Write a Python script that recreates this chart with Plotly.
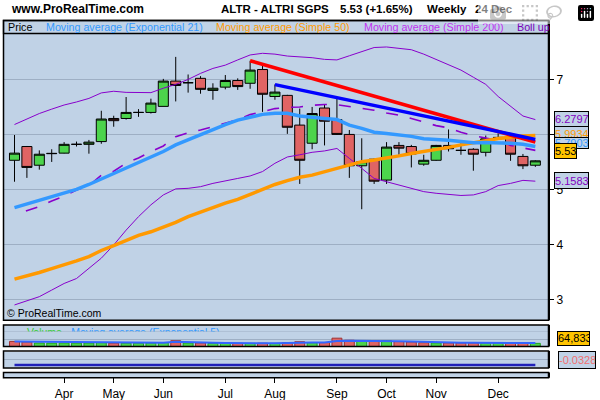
import plotly.graph_objects as go
import pandas as pd

# ---------------- data ----------------
weeks = ["2021-03-05", "2021-03-12", "2021-03-19", "2021-03-26", "2021-04-02", "2021-04-09",
         "2021-04-16", "2021-04-23", "2021-04-30", "2021-05-07", "2021-05-14", "2021-05-21",
         "2021-05-28", "2021-06-04", "2021-06-11", "2021-06-18", "2021-06-25", "2021-07-02",
         "2021-07-09", "2021-07-16", "2021-07-23", "2021-07-30", "2021-08-06", "2021-08-13",
         "2021-08-20", "2021-08-27", "2021-09-03", "2021-09-10", "2021-09-17", "2021-09-24",
         "2021-10-01", "2021-10-08", "2021-10-15", "2021-10-22", "2021-10-29", "2021-11-05",
         "2021-11-12", "2021-11-19", "2021-11-26", "2021-12-03", "2021-12-10", "2021-12-17",
         "2021-12-24"]

opens = [5.54, 5.79, 5.45, 5.66, 5.67, 5.83, 5.83, 5.88, 6.30, 6.30, 6.41, 6.41, 6.52, 6.98,
         6.95, 7.03, 6.81, 6.87, 6.99, 6.94, 7.19, 6.70, 6.72, 6.18, 5.85, 6.49, 6.28, 6.01,
         5.44, 5.56, 5.18, 5.81, 5.79, 5.47, 5.54, 5.81, 5.72, 5.74, 5.685, 5.955, 5.95, 5.61, 5.45]
highs = [6.00, 5.80, 5.72, 5.74, 5.87, 5.88, 5.91, 6.44, 6.35, 6.69, 6.47, 6.66, 7.02, 7.42,
         7.10, 7.07, 6.94, 7.09, 7.03, 7.35, 7.26, 6.92, 6.73, 6.48, 6.51, 6.56, 6.66, 6.09,
         5.94, 5.57, 5.87, 5.87, 5.82, 5.64, 5.82, 6.10, 5.85, 5.76, 5.99, 6.03, 6.00, 5.655, 5.54]
lows = [5.15, 5.22, 5.37, 5.51, 5.665, 5.79, 5.66, 5.84, 6.15, 6.28, 6.33, 6.39, 6.52, 6.61,
        6.77, 6.75, 6.64, 6.83, 6.82, 6.84, 6.42, 6.64, 6.02, 5.11, 5.74, 5.81, 6.00, 5.22,
        4.65, 5.11, 5.11, 5.64, 5.41, 5.44, 5.53, 5.70, 5.64, 5.35, 5.61, 5.91, 5.53, 5.38, 5.42]
closes = [5.67, 5.41, 5.65, 5.665, 5.83, 5.83, 5.87, 6.29, 6.26, 6.41, 6.41, 6.58, 6.98, 6.90,
          6.95, 6.83, 6.85, 6.99, 6.88, 7.18, 6.74, 6.78, 6.14, 5.54, 6.39, 6.25, 6.01, 5.44,
          5.515, 5.16, 5.78, 5.76, 5.655, 5.54, 5.81, 5.75, 5.72, 5.65, 5.93, 5.955, 5.65, 5.44, 5.53]

ema21 = [4.68, 4.745, 4.81, 4.875, 4.94, 5.01, 5.10, 5.20, 5.30, 5.39, 5.50, 5.59, 5.70, 5.82,
         5.915, 6.01, 6.10, 6.19, 6.27, 6.33, 6.375, 6.395, 6.395, 6.345, 6.315, 6.30, 6.28,
         6.18, 6.12, 6.05, 6.025, 6.00, 5.975, 5.93, 5.92, 5.905, 5.88, 5.86, 5.865, 5.865,
         5.85, 5.83, 5.79]
sma50 = [3.38, 3.435, 3.50, 3.57, 3.635, 3.71, 3.79, 3.90, 3.99, 4.08, 4.175, 4.24, 4.32, 4.41,
         4.515, 4.60, 4.685, 4.76, 4.83, 4.92, 5.00, 5.10, 5.17, 5.23, 5.27, 5.33, 5.39, 5.455,
         5.515, 5.545, 5.575, 5.62, 5.665, 5.70, 5.73, 5.775, 5.82, 5.85, 5.895, 5.935, 5.96,
         5.98, 5.99]
boll_up = [6.19, 6.29, 6.39, 6.47, 6.545, 6.60, 6.665, 6.765, 6.795, 6.775, 6.775, 6.77, 6.85,
           6.92, 7.01, 7.12, 7.21, 7.27, 7.365, 7.455, 7.485, 7.47, 7.435, 7.42, 7.405, 7.375,
           7.365, 7.44, 7.515, 7.59, 7.60, 7.575, 7.55, 7.47, 7.375, 7.285, 7.18, 7.05, 6.92,
           6.70, 6.515, 6.345, 6.28]
boll_mid = [4.55, 4.62, 4.70, 4.80, 4.89, 5.00, 5.08, 5.27, 5.34, 5.49, 5.58, 5.70, 5.80, 5.97,
            6.04, 6.09, 6.15, 6.21, 6.28, 6.37, 6.42, 6.48, 6.50, 6.51, 6.54, 6.555, 6.55, 6.52,
            6.49, 6.45, 6.40, 6.36, 6.30, 6.24, 6.17, 6.13, 6.05, 5.99, 5.945, 5.90, 5.81, 5.77, 5.72]
boll_low = [2.91, 2.98, 3.06, 3.18, 3.30, 3.39, 3.575, 3.76, 4.00, 4.27, 4.515, 4.73, 4.91,
            5.02, 5.03, 5.06, 5.12, 5.17, 5.21, 5.255, 5.335, 5.485, 5.60, 5.64, 5.685, 5.71,
            5.755, 5.575, 5.395, 5.21, 5.15, 5.09, 5.04, 4.97, 4.94, 4.92, 4.90, 4.91, 4.97,
            5.08, 5.12, 5.175, 5.16]

volume = [103000, 92000, 72000, 70000, 73000, 69000, 72000, 78000, 71000, 70000, 68000, 72000,
          79000, 117000, 72000, 73000, 64000, 63000, 66000, 64000, 68000, 64000, 78000, 97000,
          78000, 80000, 166000, 125000, 117000, 116000, 118000, 101000, 93000, 78000, 74000,
          74000, 73000, 74000, 73000, 70000, 74000, 73000, 64833]
volume_ema5 = [100000, 98000, 85000, 80000, 78000, 76000, 75000, 76000, 74000, 73000, 72000,
               72000, 75000, 98000, 88000, 82000, 78000, 74000, 70000, 68000, 67000, 66000,
               70000, 80000, 80000, 80000, 110000, 115000, 115000, 114000, 115000, 108000,
               100000, 92000, 86000, 82000, 78000, 76000, 75000, 73000, 73000, 73000, 70000]
indicator = [-0.0328, -0.0328, -0.0328, -0.0328, -0.0328, -0.0328, -0.0328, -0.0328, -0.0328,
             -0.0328, -0.0328, -0.0328, -0.0328, -0.0328, -0.0328, -0.0328, -0.0328, -0.0328,
             -0.0328, -0.0328, -0.0328, -0.0328, -0.0328, -0.0328, -0.0328, -0.0328, -0.0328,
             -0.0328, -0.0328, -0.0328, -0.0328, -0.0328, -0.0328, -0.0328, -0.0328, -0.0328,
             -0.0328, -0.0328, -0.0328, -0.0328, -0.0328, -0.0328, -0.0328]

trend_red_weeks = ["2021-07-16", "2021-12-24"]
trend_red_values = [7.35, 5.87]
trend_blue_weeks = ["2021-07-30", "2021-12-24"]
trend_blue_values = [6.915, 5.92]

month_tick_weeks = ["2021-04-02", "2021-04-30", "2021-05-28", "2021-07-02", "2021-07-30",
                    "2021-09-03", "2021-10-01", "2021-10-29", "2021-12-03"]
month_tick_labels = ["Apr", "May", "Jun", "Jul", "Aug", "Sep", "Oct", "Nov", "Dec"]
price_ticks = [3, 4, 5, 6, 7]

# ---------------- styling ----------------
F = "Liberation Sans, Arial, sans-serif"
BG = "#C0D2E6"
GRID = "#9EAFC4"
PURPLE = "#8800CC"
W, H = 600, 400


def px(x):
    return x / W


def py(y):
    return 1 - y / H


start = pd.Timestamp(weeks[0])
x_range = [start - pd.Timedelta(days=0.847 * 7), start + pd.Timedelta(days=43.02 * 7)]

fig = go.Figure()

# Bollinger bands
fig.add_trace(go.Scatter(x=weeks, y=boll_up, mode="lines", line=dict(color=PURPLE, width=1)))
fig.add_trace(go.Scatter(x=weeks, y=boll_low, mode="lines", line=dict(color=PURPLE, width=1)))
fig.add_trace(go.Scatter(x=weeks, y=boll_mid, mode="lines",
                         line=dict(color=PURPLE, width=1.6, dash="0px,12px,12px,0px")))

# candles
fig.add_trace(go.Candlestick(
    x=weeks, open=opens, high=highs, low=lows, close=closes,
    increasing=dict(fillcolor="#4CD44C", line=dict(color="black", width=1)),
    decreasing=dict(fillcolor="#E06464", line=dict(color="black", width=1)),
    whiskerwidth=0))

# moving averages and trend lines
fig.add_trace(go.Scatter(x=weeks, y=sma50, mode="lines", line=dict(color="#FF9900", width=3.5)))
fig.add_trace(go.Scatter(x=weeks, y=ema21, mode="lines", line=dict(color="#3399FF", width=3.5)))
fig.add_trace(go.Scatter(x=trend_red_weeks, y=trend_red_values, mode="lines",
                         line=dict(color="#FF0000", width=3.5)))
fig.add_trace(go.Scatter(x=trend_blue_weeks, y=trend_blue_values, mode="lines",
                         line=dict(color="#0000FF", width=3.5)))

# volume
vol_colors = ["#E06464"] + ["#4CD44C" if c >= p else "#E06464" for p, c in zip(closes[:-1], closes[1:])]
vol_lines = ["#A03030" if c == "#E06464" else "#20A020" for c in vol_colors]
fig.add_trace(go.Bar(x=weeks, y=volume, marker=dict(color=vol_colors, line=dict(color=vol_lines, width=1)),
                     xaxis="x2", yaxis="y2"))
fig.add_trace(go.Scatter(x=weeks, y=volume_ema5, mode="lines", line=dict(color="#3366FF", width=2),
                         xaxis="x2", yaxis="y2"))
fig.add_trace(go.Scatter(x=["2021-03-12"], y=[-1.6], mode="text",
                         text=["<span style='color:#33CC33'>Volume</span> - Moving average (Exponential 5)"],
                         textfont=dict(family=F, size=10.5, color="#3399FF"), textposition="middle right",
                         cliponaxis=True, xaxis="x5", yaxis="y5"))

# indicator panel
fig.add_trace(go.Scatter(x=weeks, y=indicator, mode="lines", line=dict(color="#2020B8", width=2.5),
                         xaxis="x3", yaxis="y3"))
# bottom thin panel (anchor for month ticks)
fig.add_trace(go.Scatter(x=weeks[:1], y=[0], mode="markers", marker=dict(opacity=0),
                         xaxis="x4", yaxis="y4"))

xdom = [px(4), px(548)]
common_x = dict(type="date", range=x_range, domain=xdom, showgrid=False, zeroline=False,
                showticklabels=False, ticks="", fixedrange=True)

layout = dict(
    width=W, height=H, margin=dict(l=0, r=0, t=0, b=0),
    paper_bgcolor="white", plot_bgcolor=BG, showlegend=False,
    boxgap=0.1, boxgroupgap=0.1, bargap=0.2,
    xaxis=dict(common_x, anchor="y", rangeslider=dict(visible=False)),
    yaxis=dict(domain=[py(320), py(34)], range=[2.636, 7.836], side="right", anchor="x",
               tickvals=price_ticks, ticks="outside", ticklen=5, tickcolor="black",
               tickfont=dict(family=F, size=12, color="black"), showgrid=True, gridcolor=GRID,
               gridwidth=1, zeroline=False, showline=False, fixedrange=True),
    xaxis2=dict(common_x, anchor="y2"),
    yaxis2=dict(domain=[py(346.7), py(325.5)], range=[0, 413000], anchor="x2", side="right",
                tickvals=[150000, 300000], showticklabels=False, showgrid=True, gridcolor=GRID,
                zeroline=False, fixedrange=True),
    xaxis5=dict(common_x, anchor="y5"),
    yaxis5=dict(domain=[py(331.5), py(325.5)], range=[-1, 1], anchor="x5", showticklabels=False,
                showgrid=False, zeroline=False, fixedrange=True),
    xaxis3=dict(common_x, anchor="y3"),
    yaxis3=dict(domain=[py(367.5), py(352)], range=[-0.0465, 0.0383], anchor="x3", side="right",
                tickvals=[0], showticklabels=False, showgrid=True, gridcolor=GRID,
                zeroline=False, fixedrange=True),
    xaxis4=dict(common_x, anchor="y4", tickvals=month_tick_weeks, ticktext=month_tick_labels,
                showticklabels=True, ticks="outside", ticklen=5, tickcolor="black",
                tickfont=dict(family=F, size=12, color="black")),
    yaxis4=dict(domain=[py(377.3), py(373)], range=[-1, 1], anchor="x4", showticklabels=False,
                showgrid=False, zeroline=False, fixedrange=True),
)
fig.update_layout(**layout)

shapes = []


def rect(x0, y0, x1, y1, fill=None, lw=1.5):
    shapes.append(dict(type="rect", xref="paper", yref="paper", x0=px(x0), x1=px(x1), y0=py(y0), y1=py(y1),
                       line=dict(color="black", width=lw), fillcolor=fill, layer="above"))


rect(3.5, 20.5, 548.5, 33.5, fill=BG, lw=1.3)   # legend strip
rect(3.5, 20.5, 548.5, 320.3)                    # main panel
rect(3.5, 325, 548.5, 346.5)                     # volume panel
rect(3.5, 351, 548.5, 368)                       # indicator panel
rect(3.5, 372.5, 548.5, 377.8, fill=BG)          # bottom thin panel
for y0, y1 in [(20.5, 320.3), (325, 346.5), (351, 368), (372.5, 377.8)]:
    shapes.append(dict(type="line", xref="paper", yref="paper", x0=px(549), x1=px(549), y0=py(y0), y1=py(y1),
                       line=dict(color="black", width=2), layer="above"))
fig.update_layout(shapes=shapes)

ann = []


def text(t, x, y, size, color="black", bold=False):
    ann.append(dict(x=px(x), y=py(y), xref="paper", yref="paper", xanchor="left", yanchor="middle",
                    text=f"<b>{t}</b>" if bold else t, showarrow=False,
                    font=dict(family=F, size=size, color=color)))


text("www.ProRealTime.com", 9, 8.8, 12, bold=True)
text("ALTR - ALTRI SGPS", 219, 8.8, 11.5, bold=True)
text("5.53 (+1.65%)", 338, 8.8, 11.5, bold=True)
text("Weekly", 425, 8.8, 11.5, bold=True)
text("24 Dec", 473, 8.8, 11.5, bold=True)

text("Price", 6, 27, 10.7)
text("Moving average (Exponential 21)", 44, 27, 10.7, "#3399FF")
text("Moving average (Simple 50)", 214, 27, 10.7, "#FF9900")
text("Moving average (Simple 200)", 362, 27, 10.7, "#C030F0")
text("Boll up", 515, 27, 10.7, "#7A00B8")
text("© ProRealTime.com", 5, 313, 10.5)


def box(t, xl, yc, w, h, color, bg):
    ann.append(dict(x=px(xl), y=py(yc), xref="paper", yref="paper", xanchor="left", yanchor="middle",
                    text=t, showarrow=False, font=dict(family=F, size=11, color=color),
                    bgcolor=bg, bordercolor="black", borderwidth=1, borderpad=0,
                    width=w, height=h, align="left"))


box("6.2797", 554, 118.5, 33, 13.5, "#8000C0", BG)
box("5.9934", 554, 133.5, 33, 13, "#FF9900", BG)
box("5.7903", 554, 143.3, 33, 10, "#3399FF", BG)
box("5.53", 554, 151.3, 21, 14, "black", "#FFC400")
box("5.1583", 554, 180.8, 33, 15, "#8000C0", BG)
box("64,833", 557, 338.7, 31, 12.5, "black", "#FFC400")
box("-0.0328", 557.5, 359.7, 36, 16, "#F07070", BG)
fig.update_layout(annotations=ann)

fig.write_html("out.html", post_script="document.body.style.margin='0';document.body.style.overflow='hidden';")
